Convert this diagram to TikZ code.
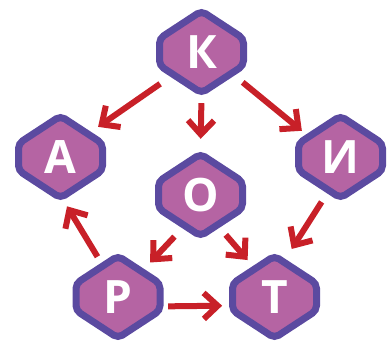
\documentclass[tikz,border=0pt]{standalone}
\usepackage{fontspec}
\setmainfont{Open Sans}
\usetikzlibrary{arrows.meta}
\definecolor{hexfill}{RGB}{181,100,163}
\definecolor{hexline}{RGB}{91,74,160}
\definecolor{arrred}{RGB}{200,32,40}
\begin{document}
\begin{tikzpicture}[x=1pt,y=-1pt,
  hexagon/.style={fill=hexfill, draw=hexline, line width=7pt, rounded corners=5pt},
  letter/.style={circle, minimum size=90pt, inner sep=0pt, text=white, font=\fontsize{46}{46}\selectfont\bfseries},
  arr/.style={draw=arrred, line width=6pt, -{Straight Barb[length=14pt,width=26pt,line width=6pt]}}]
\useasboundingbox (0,0) rectangle (389,342);
\foreach \n/\x/\y/\t in {K/201.5/52/К, A/60.5/157/А, I/340.5/157/И, O/200.5/195/О, P/118/297/Р, T/274.5/297/Т}{
  \draw[hexagon] (\x,\y-41) -- (\x+42,\y-13.5) -- (\x+42,\y+13.5) -- (\x,\y+41) -- (\x-42,\y+13.5) -- (\x-42,\y-13.5) -- cycle;
  \node[letter] (\n) at (\x,\y) {\t};
}
\draw[arr, shorten <=7pt, shorten >=3pt] (K.-142) -- (A.39);
\draw[arr, shorten <=6pt, shorten >=11pt] (K.-90) -- (O.90);
\draw[arr, shorten <=6pt, shorten >=1.5pt] (K.-36) -- (I.146);
\draw[arr, shorten <=3.6pt, shorten >=6pt] (I.-112) -- (T.72);
\draw[arr, shorten <=4pt, shorten >=2pt] (O.-121) -- (P.47);
\draw[arr, shorten <=2pt, shorten >=0.5pt] (O.-58) -- (T.126);
\draw[arr, shorten <=6pt, shorten >=8pt] (P.-12.5) -- (T.-169);
\draw[arr, shorten >=5pt] (P.117) -- (A.-85);
\end{tikzpicture}
\end{document}
